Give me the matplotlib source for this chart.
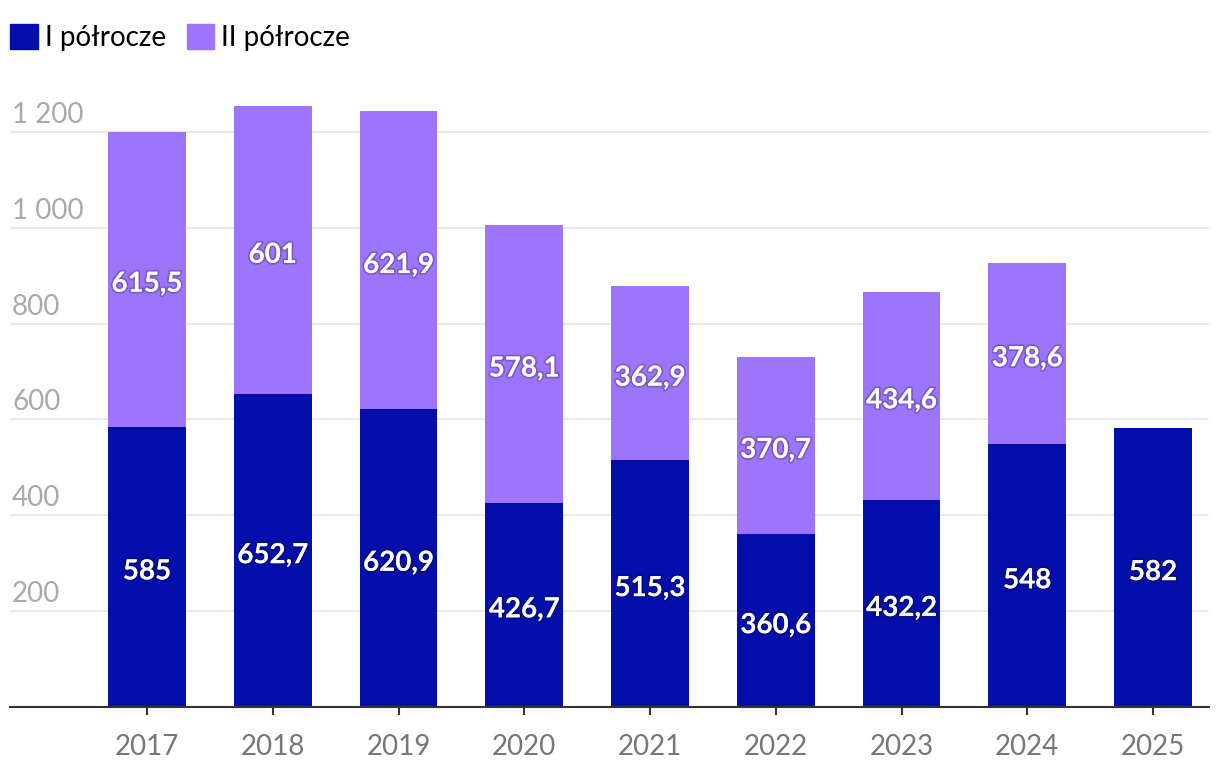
import matplotlib.pyplot as plt
import matplotlib.patheffects as pe
from matplotlib.patches import Patch
from matplotlib.transforms import blended_transform_factory

# Dane
YEARS = ["2017", "2018", "2019", "2020", "2021", "2022", "2023", "2024", "2025"]
H1 = [585, 652.7, 620.9, 426.7, 515.3, 360.6, 432.2, 548, 582]
H2 = [615.5, 601, 621.9, 578.1, 362.9, 370.7, 434.6, 378.6, None]
Y_TICKS = [200, 400, 600, 800, 1000, 1200]
SERIES = ["I półrocze", "II półrocze"]

C1 = "#040fab"
C2 = "#9d74fc"

plt.rcParams["font.family"] = ["Lato", "DejaVu Sans"]


def fmt(v):
    s = f"{v:.1f}".replace(".", ",")
    if s.endswith(",0"):
        s = s[:-2]
    return s


def fmt_tick(v):
    return f"{v:,}".replace(",", " ")


fig = plt.figure(figsize=(12.2, 7.8), dpi=100)
ax = fig.add_axes([10 / 1220, 73 / 780, 1199 / 1220, 623 / 780])

x = list(range(len(YEARS)))
w = 0.62
glow = [pe.withStroke(linewidth=2.5, foreground=(0, 0, 0, 0.22))]


def label(xc, yc, v):
    ax.annotate(fmt(v), xy=(xc, yc), xytext=(0, -1.5), textcoords="offset points",
                ha="center", va="center_baseline", color="white", fontsize=20,
                fontweight="bold", path_effects=glow, zorder=3)


for i, y in enumerate(YEARS):
    ax.bar(i, H1[i], width=w, color=C1, zorder=2)
    label(i, H1[i] / 2, H1[i])
    if H2[i] is not None:
        ax.bar(i, H2[i], bottom=H1[i], width=w, color=C2, zorder=2)
        label(i, H1[i] + H2[i] / 2, H2[i])

ax.set_xlim((10 - 147) / 125.75, (1209 - 147) / 125.75)
ax.set_ylim(0, 1300)

# siatka i etykiety osi Y
trans = blended_transform_factory(ax.transAxes, ax.transData)
for v in Y_TICKS:
    ax.axhline(v, color="#e3e3e3", linewidth=1.1, zorder=1)
    ax.annotate(fmt_tick(v), xy=(0, v), xycoords=trans, xytext=(1.5, 6.5),
                textcoords="offset points", ha="left", va="baseline",
                fontsize=20, color="#aaaaaa")

ax.set_yticks([])
ax.set_xticks(x)
ax.set_xticklabels(YEARS, fontsize=20, color="#777777")
ax.tick_params(axis="x", length=6, width=1.5, color="#333333", pad=13.5)
for s in ["top", "right", "left"]:
    ax.spines[s].set_visible(False)
ax.spines["bottom"].set_color("#333333")
ax.spines["bottom"].set_linewidth(1.5)
ax.spines["bottom"].set_zorder(4)

handles = [Patch(color=C1), Patch(color=C2)]
fig.legend(handles, SERIES, loc="upper left", bbox_to_anchor=(10 / 1220, 1 - 24 / 780),
           ncol=2, frameon=False, fontsize=20, handlelength=1.0, handleheight=1.0,
           handletextpad=0.25, columnspacing=0.75, borderaxespad=0.0, borderpad=0.0)

fig.savefig("out.png", dpi=100)
